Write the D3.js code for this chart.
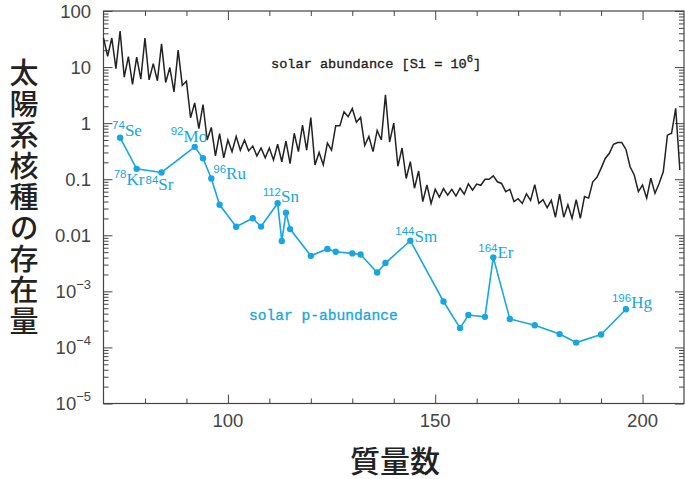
<!DOCTYPE html>
<html>
<head>
<meta charset="utf-8">
<script src="https://cdn.jsdelivr.net/npm/d3@7"></script>
<style>
  body { margin: 0; background: #fff; }
  svg { display: block; }
</style>
</head>
<body>
<svg id="chart"></svg>
<script>
// solar abundance per mass number (Si = 1e6)
const massNumbers = d3.range(70, 210);
const solarAbund = [
  33, 15.5, 33, 9.4, 44, 6.6, 15.3, 4.9, 15, 6.1,          // 70-79
  33, 5.9, 11.5, 5.7, 26, 5.3, 9.8, 3.6, 20, 4.7,          // 80-89
  5.6, 1.25, 2.3, 0.8, 2.15, 0.5, 0.84, 0.26, 0.65, 0.24,  // 90-99
  0.5, 0.31, 0.58, 0.33, 0.5, 0.32, 0.39, 0.26, 0.36, 0.24, // 100-109
  0.36, 0.22, 0.42, 0.205, 0.48, 0.19, 0.66, 0.31, 0.92, 0.33, // 110-119
  1.26, 0.18, 0.30, 0.18, 0.44, 0.33, 0.9, 0.9, 1.6, 1.3,  // 120-129
  1.82, 1.04, 1.27, 0.40, 0.58, 0.31, 0.74, 0.5, 3.2, 0.46, // 130-139
  1.0, 0.17, 0.36, 0.103, 0.205, 0.069, 0.14, 0.04, 0.079, 0.037, // 140-149
  0.066, 0.048, 0.068, 0.052, 0.066, 0.05, 0.069, 0.054, 0.083, 0.064, // 150-159
  0.082, 0.078, 0.1, 0.1, 0.115, 0.09, 0.084, 0.06, 0.066, 0.04, // 160-169
  0.045, 0.037, 0.055, 0.042, 0.08, 0.037, 0.043, 0.031, 0.042, 0.021, // 170-179
  0.054, 0.021, 0.035, 0.02, 0.043, 0.02, 0.049, 0.046, 0.09, 0.108, // 180-189
  0.156, 0.235, 0.29, 0.42, 0.45, 0.45, 0.34, 0.167, 0.119, 0.06, // 190-199
  0.079, 0.046, 0.104, 0.056, 0.084, 0.136, 0.61, 0.66, 1.84, 0.146 // 200-209
];

// p-nuclei
const pMass = [74, 78, 84, 92, 94, 96, 98, 102, 106, 108, 112, 113, 114, 115,
  120, 124, 126, 130, 132, 136, 138, 144, 152, 156, 158, 162, 164, 168,
  174, 180, 184, 190, 196];
const pAbund = [0.55, 0.153, 0.132, 0.378, 0.236, 0.103, 0.035, 0.0142, 0.0201,
  0.0143, 0.0372, 0.0079, 0.0252, 0.0129, 0.0043, 0.00571, 0.00509, 0.00476,
  0.00453, 0.00217, 0.0032, 0.008, 0.00066, 0.000221, 0.000378, 0.000351,
  0.00404, 0.000322, 0.000249, 0.000173, 0.000122, 0.00017, 0.00048];

const labelMass = [74, 78, 84, 92, 96, 112, 144, 164, 196];
const labelElem = ["Se", "Kr", "Sr", "Mo", "Ru", "Sn", "Sm", "Er", "Hg"];

const xTicks = [100, 150, 200];
const yTicks = [100, 10, 1, 0.1, 0.01, 1e-3, 1e-4, 1e-5];
const yTickText = ["100", "10", "1", "0.1", "0.01", "10|−3", "10|−4", "10|−5"];

// label placement relative to the point
const labelOffset = {
  74: [-8, -2], 78: [-23, 16], 84: [-16, 18], 92: [-24, -5], 96: [2, 1],
  112: [-15, -1], 144: [-15, 1], 164: [-15, 1], 196: [-14, -1]
};

const width = 685, height = 479;
const blue = "#17a6e2";

const svg = d3.select("#chart")
  .attr("width", width)
  .attr("height", height)
  .style("font-family", "'Liberation Sans', Arial, sans-serif");

const plotL = 103.5, plotR = 684, plotT = 11, plotB = 403.5;

const x = d3.scaleLinear().domain([70, 210]).range([plotL, plotR]);
const y = d3.scaleLog().domain([1e-5, 100]).range([plotB, plotT]);

// ticks
const majorY = d3.range(-5, 3).map(d => Math.pow(10, d));
const minorY = [];
d3.range(-5, 2).forEach(d => d3.range(2, 10).forEach(m => minorY.push(m * Math.pow(10, d))));
const majorX = [100, 150, 200];
const minorX = [80, 90, 110, 120, 130, 140, 160, 170, 180, 190];

function styleAxis(g) {
  g.select(".domain").remove();
  g.selectAll("line").attr("stroke", "#444").attr("stroke-width", 1);
}

svg.append("g").attr("transform", `translate(${plotL},0)`)
  .call(d3.axisRight(y).tickValues(majorY).tickSize(9).tickFormat("")).call(styleAxis);
svg.append("g").attr("transform", `translate(${plotL},0)`)
  .call(d3.axisRight(y).tickValues(minorY).tickSize(5).tickFormat("")).call(styleAxis);
svg.append("g").attr("transform", `translate(${plotR},0)`)
  .call(d3.axisLeft(y).tickValues(majorY).tickSize(9).tickFormat("")).call(styleAxis);
svg.append("g").attr("transform", `translate(${plotR},0)`)
  .call(d3.axisLeft(y).tickValues(minorY).tickSize(5).tickFormat("")).call(styleAxis);
svg.append("g").attr("transform", `translate(0,${plotT})`)
  .call(d3.axisBottom(x).tickValues(majorX).tickSize(9).tickFormat("")).call(styleAxis);
svg.append("g").attr("transform", `translate(0,${plotT})`)
  .call(d3.axisBottom(x).tickValues(minorX).tickSize(5).tickFormat("")).call(styleAxis);
svg.append("g").attr("transform", `translate(0,${plotB})`)
  .call(d3.axisTop(x).tickValues(majorX).tickSize(9).tickFormat("")).call(styleAxis);
svg.append("g").attr("transform", `translate(0,${plotB})`)
  .call(d3.axisTop(x).tickValues(minorX).tickSize(5).tickFormat("")).call(styleAxis);

svg.append("rect")
  .attr("x", plotL).attr("y", plotT)
  .attr("width", plotR - plotL).attr("height", plotB - plotT)
  .attr("fill", "none").attr("stroke", "#444").attr("stroke-width", 1.2);

// y tick labels
yTicks.forEach((v, i) => {
  const parts = yTickText[i].split("|");
  const t = svg.append("text")
    .attr("x", 91).attr("y", y(v) + 6.5)
    .attr("text-anchor", "end")
    .attr("fill", "#444")
    .style("font-size", "18.5px");
  t.append("tspan").text(parts[0]);
  if (parts[1]) {
    t.append("tspan").attr("dy", -9).style("font-size", "13px").text(parts[1]);
  }
});

// x tick labels
svg.selectAll(".xlab").data(xTicks).enter().append("text")
  .attr("x", d => x(d)).attr("y", 427)
  .attr("text-anchor", "middle")
  .attr("fill", "#444")
  .style("font-size", "18.5px")
  .text(d => d);

// solar abundance line
const line = d3.line().x(d => x(d[0])).y(d => y(d[1]));
svg.append("path")
  .datum(massNumbers.map((m, i) => [m, solarAbund[i]]))
  .attr("d", line)
  .attr("fill", "none")
  .attr("stroke", "#222")
  .attr("stroke-width", 1.5)
  .attr("stroke-linejoin", "miter");

// p-abundance line
const pData = pMass.map((m, i) => [m, pAbund[i]]);
svg.append("path")
  .datum(pData)
  .attr("d", line)
  .attr("fill", "none")
  .attr("stroke", blue)
  .attr("stroke-width", 1.6);

svg.selectAll(".pt").data(pData).enter().append("circle")
  .attr("cx", d => x(d[0])).attr("cy", d => y(d[1]))
  .attr("r", 3.2)
  .attr("fill", blue);

// isotope labels
labelMass.forEach((m, i) => {
  const v = pAbund[pMass.indexOf(m)];
  const off = labelOffset[m];
  const t = svg.append("text")
    .attr("x", x(m) + off[0]).attr("y", y(v) + off[1])
    .attr("fill", blue);
  t.append("tspan").attr("dy", -6.5)
    .style("font-family", "'Liberation Sans', Arial, sans-serif")
    .style("font-size", "11.5px").text(m);
  t.append("tspan").attr("dy", 6.5)
    .style("font-family", "'Liberation Serif', 'Times New Roman', serif")
    .style("font-size", "17px").text(labelElem[i]);
});

// series names
const sa = svg.append("text")
  .attr("x", 271).attr("y", 68)
  .attr("fill", "#222")
  .attr("stroke", "#222").attr("stroke-width", 0.35)
  .style("font-family", "'Liberation Mono', 'Courier New', monospace")
  .style("font-size", "13.6px");
sa.append("tspan").text("solar abundance [Si = 10");
sa.append("tspan").attr("dy", -6).style("font-size", "10.5px").text("6");
sa.append("tspan").attr("dy", 6).text("]");

svg.append("text")
  .attr("x", 249).attr("y", 320)
  .attr("fill", blue)
  .attr("stroke", blue).attr("stroke-width", 0.3)
  .style("font-family", "'Liberation Mono', 'Courier New', monospace")
  .style("font-size", "14.6px")
  .text("solar p-abundance");

// axis titles
svg.append("text")
  .attr("x", 24).attr("y", 58)
  .attr("fill", "#222")
  .style("writing-mode", "vertical-rl")
  .style("font-family", "'Noto Sans CJK JP', sans-serif")
  .style("font-weight", 500)
  .style("font-size", "29px")
  .style("letter-spacing", "2px")
  .text("太陽系核種の存在量");

svg.append("text")
  .attr("x", 395).attr("y", 458.5)
  .attr("text-anchor", "middle")
  .attr("dominant-baseline", "central")
  .attr("fill", "#222")
  .style("font-family", "'Noto Sans CJK JP', sans-serif")
  .style("font-weight", 500)
  .style("font-size", "30px")
  .text("質量数");
</script>
</body>
</html>
